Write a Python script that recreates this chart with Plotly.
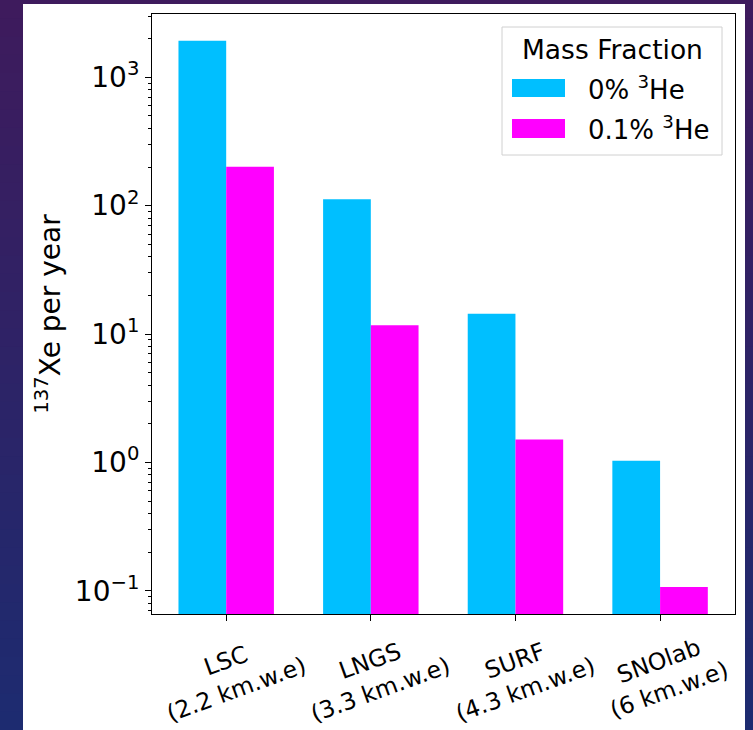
import plotly.graph_objects as go

# Underground sites and their depth
sites = ["LSC", "LNGS", "SURF", "SNOlab"]
depths = ["(2.2 km.w.e)", "(3.3 km.w.e)", "(4.3 km.w.e)", "(6 km.w.e)"]

# 137Xe production per year for each 3He mass fraction
xe_0pct = [1930, 112, 14.4, 1.03]
xe_01pct = [201, 11.7, 1.51, 0.107]

series_names = ["0% <sup>3</sup>He", "0.1% <sup>3</sup>He"]
series_colors = ["#00bfff", "#ff00ff"]

y_tickvals = [0.1, 1, 10, 100, 1000]
y_ticktext = ["10<sup>\u22121</sup>", "10<sup>0</sup>", "10<sup>1</sup>",
              "10<sup>2</sup>", "10<sup>3</sup>"]

W, H = 753, 730
ML, MR, MT, MB = 152, 18, 14, 116
PW, PH = W - ML - MR, H - MT - MB

def px_x(x):
    return (x - ML) / PW

def px_y(y):
    return (H - MB - y) / PH

bar_w = 0.33
xs = list(range(len(sites)))

fig = go.Figure()
for vals, name, col, off in [(xe_0pct, series_names[0], series_colors[0], -bar_w),
                             (xe_01pct, series_names[1], series_colors[1], 0.0)]:
    fig.add_trace(go.Bar(x=xs, y=vals, name=name, width=bar_w, offset=off,
                         marker=dict(color=col, line=dict(width=0)),
                         showlegend=False))

shapes = []
# dark gradient backdrop behind the white panel
top_c = (0x3e, 0x1b, 0x5d)
bot_c = (0x1d, 0x2b, 0x70)
n = 40
for i in range(n):
    t = i / (n - 1)
    c = tuple(int(round(top_c[k] + (bot_c[k] - top_c[k]) * t)) for k in range(3))
    y0 = i * H / n
    y1 = (i + 1) * H / n + 1
    shapes.append(dict(type="rect", xref="paper", yref="paper", layer="below",
                       x0=px_x(0), x1=px_x(W), y0=px_y(y1), y1=px_y(y0),
                       fillcolor="rgb(%d,%d,%d)" % c, line=dict(width=0)))
# white panel
shapes.append(dict(type="rect", xref="paper", yref="paper", layer="below",
                   x0=px_x(23), x1=px_x(745), y0=px_y(H + 2), y1=px_y(4),
                   fillcolor="white", line=dict(width=0)))

# legend box with swatches
shapes.append(dict(type="rect", xref="paper", yref="paper",
                   x0=px_x(502), x1=px_x(722), y0=px_y(155), y1=px_y(27),
                   fillcolor="white", line=dict(color="#d0d0d0", width=1)))
for col, (y0, y1) in zip(series_colors, [(79, 97), (119, 138)]):
    shapes.append(dict(type="rect", xref="paper", yref="paper",
                       x0=px_x(512), x1=px_x(565), y0=px_y(y1), y1=px_y(y0),
                       fillcolor=col, line=dict(width=0)))

annotations = []
annotations.append(dict(text="Mass Fraction", xref="paper", yref="paper",
                        x=px_x(612), y=px_y(49), showarrow=False,
                        xanchor="center", yanchor="middle",
                        font=dict(size=26.5, color="black")))
for name, yc in zip(series_names, [88, 128]):
    annotations.append(dict(text=name, xref="paper", yref="paper",
                            x=px_x(586), y=px_y(yc), showarrow=False,
                            xanchor="left", yanchor="middle",
                            font=dict(size=26, color="black")))

# rotated two-line category labels
for i, (s, d) in enumerate(zip(sites, depths)):
    annotations.append(dict(text=s + "<br>" + d, x=i + 0.03, xref="x", yref="paper",
                            y=px_y(675), showarrow=False, textangle=-20,
                            xanchor="center", yanchor="middle", align="center",
                            font=dict(size=23.5, color="black")))

minor_vals = [k * 10.0 ** e for e in range(-2, 4) for k in range(2, 10)]

fig.update_layout(
    width=W, height=H,
    margin=dict(l=ML, r=MR, t=MT, b=MB, autoexpand=False),
    paper_bgcolor="#2a2266",
    plot_bgcolor="white",
    barmode="overlay",
    font=dict(family="DejaVu Sans", color="black"),
    shapes=shapes,
    annotations=annotations,
    xaxis=dict(range=[-0.513, 3.518], tickvals=xs, showticklabels=False,
               ticks="outside", ticklen=6, tickcolor="black",
               showgrid=False, zeroline=False,
               showline=True, linecolor="black", linewidth=1, mirror=True),
    yaxis=dict(type="log", range=[-1.181, 3.493],
               tickvals=y_tickvals, ticktext=y_ticktext,
               tickfont=dict(size=28),
               ticks="outside", ticklen=6, tickcolor="black",
               minor=dict(tickvals=minor_vals, ticks="outside", ticklen=3,
                          tickcolor="black", showgrid=False),
               showgrid=False, zeroline=False,
               showline=True, linecolor="black", linewidth=1, mirror=True,
               title=dict(text="<sup>137</sup>Xe per year",
                          font=dict(size=28), standoff=6)),
)

fig.write_html("out.html")
